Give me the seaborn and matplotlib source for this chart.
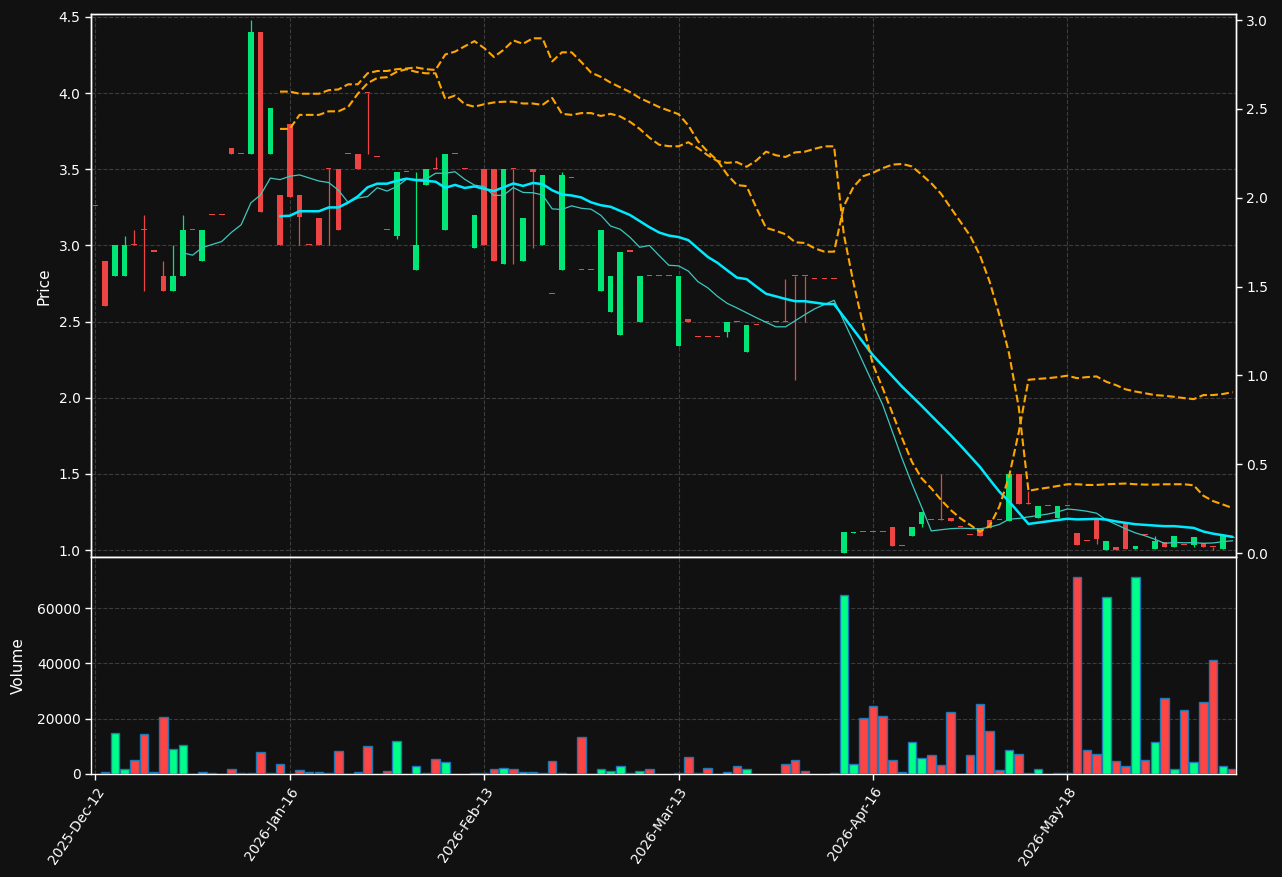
import numpy as np
import pandas as pd
import matplotlib
matplotlib.use("Agg")
import matplotlib.pyplot as plt
import seaborn as sns

# ---------------- data ----------------
tick_labels = ["2025-Dec-12", "2026-Jan-16", "2026-Feb-13", "2026-Mar-13", "2026-Apr-16", "2026-May-18"]
tick_every = 20

opens = [3.26, 2.90, 2.80, 2.80, 3.00, 3.10, 2.96, 2.80, 2.70, 2.80,
         3.10, 2.90, 3.20, 3.20, 3.64, 3.60, 3.60, 4.40, 3.60, 3.33,
         3.80, 3.33, 3.00, 3.18, 3.50, 3.50, 3.60, 3.60, 4.00, 3.58,
         3.10, 3.06, 3.48, 2.84, 3.40, 3.50, 3.10, 3.60, 3.50, 2.98,
         3.50, 3.50, 2.88, 3.50, 2.90, 3.50, 3.00, 2.68, 2.84, 3.44,
         2.84, 2.84, 2.70, 2.56, 2.41, 2.96, 2.50, 2.80, 2.80, 2.80,
         2.34, 2.52, 2.40, 2.40, 2.40, 2.43, 2.50, 2.30, 2.48, 2.50,
         2.50, 2.50, 2.80, 2.80, 2.78, 2.78, 2.78, 0.98, 1.115, 1.12,
         1.12, 1.12, 1.15, 1.03, 1.095, 1.17, 1.20, 1.20, 1.21, 1.15,
         1.10, 1.145, 1.20, 1.20, 1.19, 1.50, 1.30, 1.21, 1.29, 1.21,
         1.29, 1.115, 1.06, 1.195, 1.00, 1.018, 1.184, 1.01, 1.10, 1.01,
         1.055, 1.02, 1.035, 1.033, 1.048, 1.022, 1.01, 1.08]
highs = [3.26, 2.90, 3.00, 3.06, 3.10, 3.20, 2.96, 2.90, 3.00, 3.20,
         3.10, 3.10, 3.20, 3.20, 3.64, 3.60, 4.48, 4.40, 3.90, 3.33,
         3.80, 3.33, 3.00, 3.18, 3.50, 3.50, 3.60, 3.60, 4.00, 3.58,
         3.10, 3.48, 3.48, 3.48, 3.50, 3.58, 3.60, 3.60, 3.50, 3.20,
         3.50, 3.50, 3.50, 3.50, 3.18, 3.50, 3.46, 2.68, 3.48, 3.44,
         2.84, 2.84, 3.10, 2.80, 2.96, 2.96, 2.80, 2.80, 2.80, 2.80,
         2.80, 2.52, 2.40, 2.40, 2.40, 2.50, 2.50, 2.48, 2.48, 2.50,
         2.50, 2.78, 2.80, 2.80, 2.78, 2.78, 2.78, 1.12, 1.12, 1.12,
         1.12, 1.12, 1.15, 1.03, 1.15, 1.25, 1.20, 1.50, 1.21, 1.15,
         1.10, 1.145, 1.20, 1.20, 1.50, 1.50, 1.385, 1.29, 1.29, 1.29,
         1.29, 1.115, 1.06, 1.195, 1.063, 1.018, 1.184, 1.024, 1.10, 1.096,
         1.055, 1.096, 1.035, 1.083, 1.048, 1.022, 1.096, 1.08]
lows = [3.26, 2.60, 2.80, 2.80, 3.00, 2.70, 2.96, 2.70, 2.70, 2.80,
        3.10, 2.90, 3.20, 3.20, 3.60, 3.60, 3.60, 3.22, 3.60, 3.00,
        3.32, 3.00, 3.00, 3.00, 3.00, 3.10, 3.60, 3.50, 3.60, 3.58,
        3.10, 3.04, 3.48, 2.84, 3.40, 3.50, 3.10, 3.60, 3.50, 2.98,
        3.00, 2.90, 2.88, 2.88, 2.90, 2.98, 3.00, 2.68, 2.84, 3.44,
        2.84, 2.84, 2.70, 2.56, 2.41, 2.96, 2.50, 2.80, 2.80, 2.80,
        2.34, 2.50, 2.40, 2.40, 2.40, 2.40, 2.50, 2.30, 2.48, 2.50,
        2.50, 2.50, 2.12, 2.50, 2.78, 2.78, 2.78, 0.98, 1.115, 1.12,
        1.12, 1.12, 1.03, 1.03, 1.095, 1.15, 1.20, 1.20, 1.19, 1.15,
        1.10, 1.095, 1.147, 1.20, 1.19, 1.30, 1.30, 1.21, 1.29, 1.21,
        1.29, 1.035, 1.06, 1.04, 1.00, 1.00, 1.01, 1.01, 1.10, 1.01,
        1.02, 1.02, 1.035, 1.02, 1.02, 1.00, 1.01, 1.08]
closes = [3.26, 2.60, 3.00, 3.00, 3.00, 3.10, 2.96, 2.70, 2.80, 3.10,
          3.10, 3.10, 3.20, 3.20, 3.60, 3.60, 4.40, 3.22, 3.90, 3.00,
          3.32, 3.19, 3.00, 3.00, 3.50, 3.10, 3.60, 3.50, 4.00, 3.58,
          3.10, 3.48, 3.48, 3.00, 3.50, 3.50, 3.60, 3.60, 3.50, 3.20,
          3.00, 2.90, 3.50, 3.50, 3.18, 3.48, 3.46, 2.68, 3.46, 3.44,
          2.84, 2.84, 3.10, 2.80, 2.96, 2.96, 2.80, 2.80, 2.80, 2.80,
          2.80, 2.50, 2.40, 2.40, 2.40, 2.50, 2.50, 2.48, 2.48, 2.50,
          2.50, 2.50, 2.80, 2.80, 2.78, 2.78, 2.78, 1.12, 1.12, 1.12,
          1.12, 1.12, 1.03, 1.03, 1.15, 1.25, 1.20, 1.20, 1.19, 1.15,
          1.10, 1.095, 1.147, 1.20, 1.50, 1.30, 1.30, 1.29, 1.29, 1.29,
          1.29, 1.035, 1.06, 1.07, 1.063, 1.00, 1.01, 1.024, 1.10, 1.063,
          1.02, 1.096, 1.035, 1.083, 1.02, 1.022, 1.096, 1.08]
volumes = [0, 600, 14700, 1700, 4950, 14360, 850, 20500, 8930, 10380,
           0, 600, 200, 0, 1700, 200, 200, 7850, 200, 3500,
           0, 1330, 600, 600, 200, 8200, 0, 600, 10000, 0,
           970, 11830, 0, 2780, 200, 5300, 4220, 0, 0, 200,
           200, 1700, 2050, 1700, 600, 600, 200, 4590, 200, 0,
           13280, 0, 1700, 970, 2780, 200, 970, 1700, 0, 0,
           200, 6040, 200, 2050, 0, 600, 2780, 1700, 0, 0,
           0, 3500, 4950, 970, 0, 0, 200, 64700, 3500, 20160,
           24500, 20880, 4950, 600, 11470, 5670, 6760, 3140, 22330, 0,
           6760, 25230, 15450, 1330, 8570, 7120, 200, 1700, 0, 200,
           200, 71200, 8570, 7120, 63970, 4590, 2780, 71200, 4950, 11470,
           27400, 1700, 23050, 4220, 25950, 41160, 2780, 1700]
# secondary-axis dashed series (start at bar 19)
line_p = [2.597, 2.597, 2.585, 2.585, 2.585, 2.605, 2.609, 2.638, 2.638, 2.70,
          2.713, 2.713, 2.723, 2.727, 2.733, 2.723, 2.719, 2.806, 2.822, 2.852,
          2.881, 2.842, 2.792, 2.832, 2.885, 2.866, 2.897, 2.897, 2.767, 2.818,
          2.818, 2.763, 2.704, 2.68, 2.648, 2.621, 2.595, 2.561, 2.536, 2.51,
          2.49, 2.47, 2.407, 2.318, 2.259, 2.209, 2.13, 2.071, 2.065, 1.943,
          1.83, 1.814, 1.794, 1.749, 1.745, 1.715, 1.696, 1.696, 1.953, 2.061,
          2.121, 2.14, 2.166, 2.186, 2.19, 2.176, 2.13, 2.081, 2.022, 1.943,
          1.864, 1.785, 1.676, 1.528, 1.34, 1.123, 0.82, 0.35, 0.36, 0.368,
          0.377, 0.387, 0.387, 0.383, 0.383, 0.387, 0.389, 0.391, 0.387, 0.385,
          0.385, 0.387, 0.387, 0.387, 0.381, 0.322, 0.292, 0.273, 0.253]
line_q = [2.387, 2.387, 2.466, 2.466, 2.466, 2.486, 2.486, 2.51, 2.585, 2.644,
          2.674, 2.678, 2.708, 2.723, 2.708, 2.70, 2.70, 2.555, 2.575, 2.526,
          2.512, 2.526, 2.536, 2.54, 2.54, 2.53, 2.53, 2.522, 2.561, 2.472,
          2.466, 2.476, 2.476, 2.46, 2.472, 2.457, 2.427, 2.387, 2.338, 2.298,
          2.29, 2.289, 2.312, 2.279, 2.239, 2.206, 2.196, 2.20, 2.174, 2.209,
          2.259, 2.239, 2.229, 2.255, 2.259, 2.275, 2.289, 2.289, 1.794, 1.52,
          1.28, 1.06, 0.928, 0.787, 0.646, 0.514, 0.421, 0.364, 0.299, 0.242,
          0.195, 0.158, 0.12, 0.152, 0.261, 0.43, 0.68, 0.975, 0.98, 0.984,
          0.99, 0.998, 0.984, 0.99, 0.994, 0.964, 0.945, 0.921, 0.909, 0.899,
          0.889, 0.885, 0.879, 0.872, 0.866, 0.889, 0.889, 0.895, 0.905]
line_start = 19

# ---------------- styling ----------------
BG = "#111111"
UP, DOWN = "#00e676", "#ef4444"
VUP, VDOWN = "#00ff88", "#ff4444"
sns.set_theme(style="dark", rc={
    "figure.facecolor": BG, "axes.facecolor": BG, "savefig.facecolor": BG,
    "axes.edgecolor": "white", "axes.labelcolor": "white",
    "xtick.color": "white", "ytick.color": "white", "text.color": "white",
    "grid.color": "#3c3c3c", "grid.linestyle": "--", "grid.linewidth": 0.8,
    "xtick.bottom": True, "ytick.left": True,
})
plt.rcParams["font.family"] = ["DejaVu Sans"]

n = len(closes)
idx = np.arange(n)
o, h, l, c = map(np.array, (opens, highs, lows, closes))
up = c > o
df = pd.DataFrame({"i": idx, "close": c})
df["ma10"] = df["close"].rolling(10).mean()
df["ma20"] = df["close"].rolling(20).mean()
bands = pd.DataFrame({"i": np.arange(line_start, line_start + len(line_p)),
                      "p": line_p, "q": line_q})

fig = plt.figure(figsize=(12.82, 8.77), dpi=100)
L, W = 0.07098, 0.89314
ax_p = fig.add_axes([L, 0.36488, W, 0.61859])
ax_v = fig.add_axes([L, 0.11745, W, 0.24743], sharex=ax_p)

# candles
ccol = np.where(up, UP, DOWN)
ax_p.vlines(idx, l, h, colors=ccol, linewidth=0.9, zorder=2)
body_h = np.maximum(np.abs(c - o), 0.007)
ax_p.bar(idx, body_h, bottom=np.minimum(o, c), width=0.58, color=ccol,
         linewidth=0, zorder=3)

# moving averages
sns.lineplot(data=df, x="i", y="ma10", ax=ax_p, color="#3cc8bd", linewidth=0.9,
             legend=False, zorder=4)
sns.lineplot(data=df, x="i", y="ma20", ax=ax_p, color="#00eaff", linewidth=1.8,
             legend=False, zorder=5)

ax_p.set_ylim(0.955, 4.516)
ax_p.set_yticks(np.arange(1.0, 4.51, 0.5))
ax_p.yaxis.set_major_formatter(matplotlib.ticker.FormatStrFormatter("%.1f"))
ax_p.set_ylabel("Price", fontsize=11, labelpad=5)
ax_p.set_xlabel("")
ax_p.grid(True)
ax_p.set_axisbelow(True)
plt.setp(ax_p.get_xticklabels(), visible=False)

# secondary axis
ax_r = ax_p.twinx()
sns.lineplot(data=bands, x="i", y="p", ax=ax_r, color="orange", linewidth=1.5,
             linestyle="--", legend=False)
sns.lineplot(data=bands, x="i", y="q", ax=ax_r, color="orange", linewidth=1.5,
             linestyle="--", legend=False)
ax_r.set_ylim(-0.0225, 3.031)
ax_r.set_yticks(np.arange(0.0, 3.01, 0.5))
ax_r.yaxis.set_major_formatter(matplotlib.ticker.FormatStrFormatter("%.1f"))
ax_r.set_ylabel("")
ax_r.grid(False)
ax_r.tick_params(axis="y", colors="white", labelsize=10, right=True)

# volume
vol = np.array(volumes, dtype=float)
mask = vol > 0
vcol = np.where(up, VUP, VDOWN)
ax_v.bar(idx[mask], vol[mask], width=0.88, color=vcol[mask],
         edgecolor="#1f77b4", linewidth=1.0, zorder=3)
ax_v.set_ylim(0, 78550)
ax_v.set_yticks([0, 20000, 40000, 60000])
ax_v.set_ylabel("Volume", fontsize=11, labelpad=8)
ax_v.grid(True)
ax_v.set_axisbelow(True)

ax_v.set_xlim(-0.45, 117.35)
ticks = np.arange(0, n, tick_every)[:len(tick_labels)]
ax_v.set_xticks(ticks)
ax_v.set_xticklabels(tick_labels, rotation=56, ha="right", rotation_mode="anchor",
                     fontsize=10)
ax_v.set_xlabel("")

for ax in (ax_p, ax_v, ax_r):
    for s in ax.spines.values():
        s.set_color("white")
        s.set_linewidth(1.0)
    ax.tick_params(colors="white", labelsize=10, length=4, width=1)

fig.savefig("out.png", dpi=100, facecolor=BG)
